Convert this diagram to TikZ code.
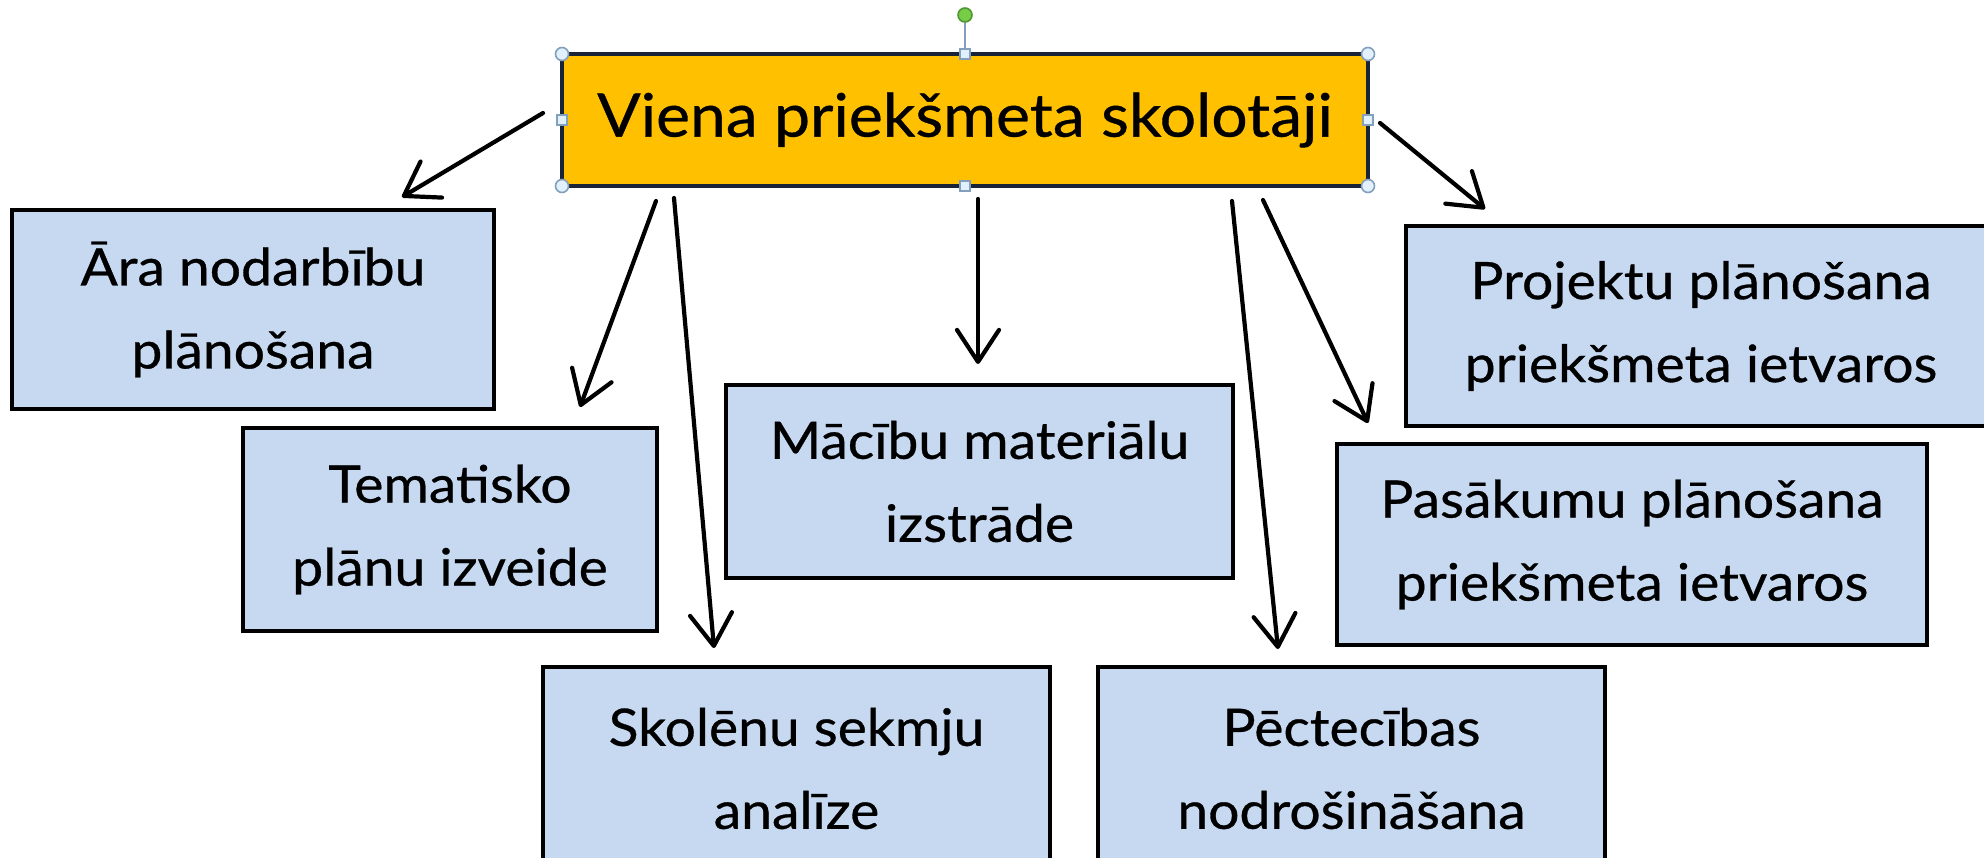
\documentclass[tikz,border=0pt]{standalone}
\usepackage{fontspec}
\setmainfont{Lato}[FakeStretch=1.07,FakeBold=0.6]
\usetikzlibrary{arrows.meta}
\definecolor{boxblue}{RGB}{198,217,240}
\definecolor{gold}{RGB}{255,192,0}
\definecolor{topedge}{RGB}{25,35,55}
\definecolor{handleedge}{RGB}{130,160,190}
\definecolor{handlefill}{RGB}{225,240,250}
\definecolor{rotfill}{RGB}{120,205,70}
\definecolor{rotedge}{RGB}{80,150,50}
\begin{document}
\begin{tikzpicture}[x=0.5pt,y=-0.5pt,
  subbox/.style={draw=black, line width=2pt, fill=boxblue, align=center, inner sep=0pt, outer sep=0pt, font=\fontsize{25.8pt}{41.5pt}\selectfont, text=black},
  headbox/.style={draw=topedge, line width=1.6pt, fill=gold, inner sep=0pt, outer sep=0pt, font=\fontsize{30pt}{36pt}\selectfont},
  conn/.style={line width=2.1pt, line cap=round, -{Straight Barb[length=16pt,width=21pt,line width=2.1pt,round]}},
  cornerh/.style={circle, draw=handleedge, fill=handlefill, line width=0.8pt, minimum size=6.5pt, inner sep=0pt},
  sideh/.style={rectangle, draw=handleedge, fill=handlefill, line width=0.8pt, minimum size=5pt, inner sep=0pt},
  roth/.style={circle, draw=rotedge, fill=rotfill, line width=0.8pt, minimum size=7pt, inner sep=0pt}]
\clip (0,0) rectangle (1984,857);
\fill[white] (0,0) rectangle (1984,857);

% boxes
\node[headbox, minimum width=403pt, minimum height=66pt] (top) at (965,120) {Viena priekšmeta skolotāji};
\node[subbox, minimum width=241pt, minimum height=99.5pt] (ara) at (253,309.5) {Āra nodarbību\\plānošana};
\node[subbox, minimum width=207pt, minimum height=101.5pt] (tem) at (450,529.5) {Tematisko\\plānu izveide};
\node[subbox, minimum width=253.5pt, minimum height=96.5pt] (mac) at (979.5,481.5) {Mācību materiālu\\izstrāde};
\node[subbox, minimum width=253.5pt, minimum height=101.5pt] (sko) at (796.5,768.5) {Skolēnu sekmju\\analīze};
\node[subbox, minimum width=253.5pt, minimum height=101.5pt] (pec) at (1351.5,768.5) {Pēctecības\\nodrošināšana};
\node[subbox, minimum width=295pt, minimum height=100pt] (proj) at (1701,326) {Projektu plānošana\\priekšmeta ietvaros};
\node[subbox, minimum width=295pt, minimum height=100.5pt] (pas) at (1632,544.5) {Pasākumu plānošana\\priekšmeta ietvaros};

% connector ends
\coordinate (s1) at (543,113);  \coordinate (e1) at (402,197);
\coordinate (s2) at (656,201);  \coordinate (e2) at (580,407);
\coordinate (s3) at (674,198);  \coordinate (e3) at (714,648);
\coordinate (s4) at (978,199);  \coordinate (e4) at (978,364);
\coordinate (s5) at (1232,201); \coordinate (e5) at (1278,649);
\coordinate (s6) at (1263,200); \coordinate (e6) at (1368,423);
\coordinate (s7) at (1380,123); \coordinate (e7) at (1485,209);
\draw[conn] (s1) -- (e1);
\draw[conn] (s2) -- (e2);
\draw[conn] (s3) -- (e3);
\draw[conn] (s4) -- (e4);
\draw[conn] (s5) -- (e5);
\draw[conn] (s6) -- (e6);
\draw[conn] (s7) -- (e7);

% selection handles
\node[roth] (rot) at (965,15) {};
\draw[handleedge, line width=0.8pt] (rot) -- (top.north);
\node[cornerh] (c1) at (top.north west) {};
\node[cornerh] (c2) at (top.north east) {};
\node[cornerh] (c3) at (top.south west) {};
\node[cornerh] (c4) at (top.south east) {};
\node[sideh] (m1) at (top.north) {};
\node[sideh] (m2) at (top.south) {};
\node[sideh] (m3) at (top.west) {};
\node[sideh] (m4) at (top.east) {};
\end{tikzpicture}
\end{document}
